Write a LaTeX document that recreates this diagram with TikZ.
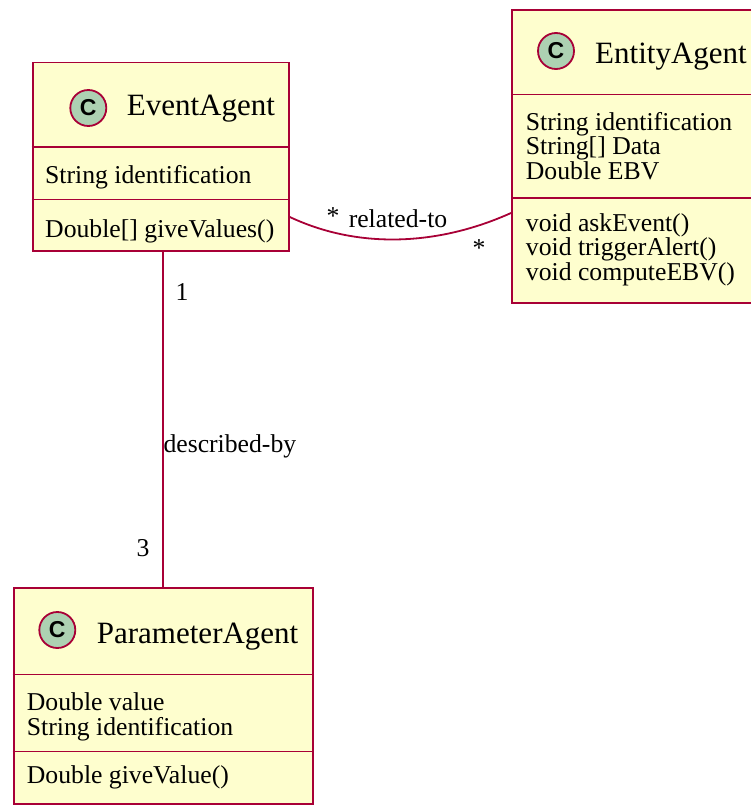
\documentclass[tikz,border=0pt]{standalone}
\usepackage{fontspec}
\setmainfont{Liberation Serif}
\newfontfamily\iconfont{Liberation Sans}
\usepackage{tikz}
\usetikzlibrary{positioning}
\definecolor{umlred}{HTML}{A80036}
\definecolor{umlfill}{HTML}{FEFECE}
\definecolor{umlicon}{HTML}{ADD1B2}
\tikzset{
  classbox/.style={draw=umlred, fill=umlfill, line width=1.8pt, rectangle, inner sep=0pt, anchor=north west},
  sep/.style={draw=umlred, line width=1.8pt},
  icon/.style={draw=umlred, fill=umlicon, line width=1.8pt, circle, minimum size=36pt, inner sep=0pt,
    font=\iconfont\bfseries\fontsize{23}{23}\selectfont},
  classname/.style={anchor=base west, inner sep=0pt, font=\fontsize{31}{37}\selectfont},
  member/.style={anchor=base west, inner sep=0pt, align=left, font=\fontsize{25.7}{24.5}\selectfont},
  assoc/.style={draw=umlred, line width=1.8pt},
  lbl/.style={inner sep=0pt, font=\fontsize{25.7}{25}\selectfont}
}

\begin{document}
\begin{tikzpicture}[x=1pt, y=-1pt]
    \useasboundingbox (0,0) rectangle (751,805);

    % EventAgent
    \node[classbox, minimum width=256.3pt, minimum height=188.3pt] (event) at (31.7,61.7) {};
    \draw[sep] (event.west |- 0,146.7) -- (event.east |- 0,146.7);
    \draw[sep] (event.west |- 0,199.5) -- (event.east |- 0,199.5);
    \node[icon] (eventicon) at (88.3,108) {C};
    \node[classname] (eventname) at (126.7,116) {EventAgent};
    \node[member] (eventattr) at (45,183) {String identification};
    \node[member] (eventops) at (45,237) {Double[] giveValues()};

    % EntityAgent (base = last line)
    \node[classbox, minimum width=243pt, minimum height=292.4pt] (entity) at (511,9.3) {};
    \draw[sep] (entity.west |- 0,94.5) -- (entity.east |- 0,94.5);
    \draw[sep] (entity.west |- 0,198) -- (entity.east |- 0,198);
    \node[icon] (entityicon) at (556,51) {C};
    \node[classname] (entityname) at (595,63.3) {EntityAgent};
    \node[member] (entityattr) at (525.7,179) {String identification\\String[] Data\\Double EBV};
    \node[member] (entityops) at (525.7,280) {void askEvent()\\void triggerAlert()\\void computeEBV()};

    % ParameterAgent
    \node[classbox, minimum width=299pt, minimum height=215.4pt] (param) at (12.7,587.3) {};
    \draw[sep] (param.west |- 0,674.5) -- (param.east |- 0,674.5);
    \draw[sep] (param.west |- 0,751.5) -- (param.east |- 0,751.5);
    \node[icon] (paramicon) at (57.3,630) {C};
    \node[classname] (paramname) at (96.7,643.3) {ParameterAgent};
    \node[member] (paramattr) at (26.7,735) {Double value\\String identification};
    \node[member] (paramops) at (26.7,783.5) {Double giveValue()};

    % Associations
    \draw[assoc] (event.east |- 0,217) .. controls (360,250) and (440,245) .. (entity.west |- 0,213);
    \node[lbl, anchor=base] (relname) at (398,227) {related-to};
    \node[lbl, anchor=base] (relmulta) at (333,224) {*};
    \node[lbl, anchor=base] (relmultb) at (479,256) {*};

    \draw[assoc] (event.south -| param.north) -- (param.north);
    \node[lbl, anchor=base west] (descname) at (163.3,452.7) {described-by};
    \node[lbl, anchor=base west] (descmulta) at (175.5,300.7) {1};
    \node[lbl, anchor=base west] (descmultb) at (136.5,556.7) {3};
\end{tikzpicture}
\end{document}
